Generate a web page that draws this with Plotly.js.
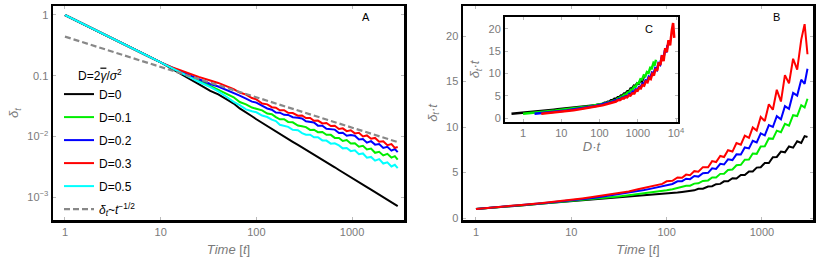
<!DOCTYPE html>
<html><head><meta charset="utf-8">
<script src="https://cdn.plot.ly/plotly-3.0.1.min.js"></script>
<style>html,body{margin:0;padding:0;background:#fff;} #chart{width:817px;height:259px;}</style>
</head><body><div id="chart"></div>
<script>
// ---- time grid (shared by all series) ----
const timeSteps = [1, 1.5, 2, 3, 5, 7, 10, 13, 16, 20, 25, 33, 40, 50, 58, 67, 78, 90, 100, 115, 130, 145, 160, 176, 195, 215, 240, 272, 300, 330, 365, 400, 440, 490, 540, 600, 660, 730, 800, 880, 970, 1070, 1180, 1300, 1430, 1580, 1740, 1920, 2120, 2340, 2580, 2800, 3000];

// ---- Panel A: delta_t (log-log) ----
const legendLabelsA = ['D=0', 'D=0.1', 'D=0.2', 'D=0.3', 'D=0.5'];
const deltaD0  = [1, 0.733, 0.582, 0.427, 0.285, 0.219, 0.166, 0.132, 0.1096, 0.0891, 0.0724, 0.0562, 0.0490, 0.0398, 0.0347, 0.0288, 0.0251, 0.0214, 0.0191, 0.0166, 0.0148, 0.0132, 0.0120, 0.01096, 0.0100, 0.00912, 0.00813, 0.00724, 0.00661, 0.00603, 0.00543, 0.00501, 0.00457, 0.00407, 0.00372, 0.00339, 0.00309, 0.00279, 0.00254, 0.00232, 0.00211, 0.00193, 0.00174, 0.00158, 0.00145, 0.00132, 0.00120, 0.00110, 0.00100, 0.000902, 0.000822, 0.000759, 0.000708];
const deltaD01 = [1, 0.733, 0.582, 0.427, 0.285, 0.219, 0.166, 0.135, 0.116, 0.0977, 0.0832, 0.0676, 0.0589, 0.0490, 0.0441, 0.0368, 0.0336, 0.0298, 0.0287, 0.0268, 0.0238, 0.0232, 0.0207, 0.0191, 0.0191, 0.01726, 0.0170, 0.01507, 0.01466, 0.01419, 0.01276, 0.01288, 0.01169, 0.01178, 0.01059, 0.01057, 0.00942, 0.00940, 0.00839, 0.00867, 0.00764, 0.00769, 0.00676, 0.00700, 0.00608, 0.00627, 0.00535, 0.00557, 0.00485, 0.00515, 0.00447, 0.00472, 0.00414];
const deltaD02 = [1, 0.733, 0.582, 0.427, 0.285, 0.219, 0.166, 0.1365, 0.119, 0.1023, 0.0871, 0.0729, 0.0661, 0.0575, 0.0520, 0.0470, 0.0419, 0.0373, 0.0359, 0.0322, 0.0288, 0.0275, 0.0247, 0.0245, 0.0226, 0.0225, 0.0207, 0.0202, 0.0197, 0.0177, 0.0175, 0.01687, 0.0150, 0.01496, 0.0133, 0.01321, 0.01291, 0.01138, 0.01148, 0.01023, 0.01052, 0.01023, 0.00885, 0.00902, 0.00787, 0.00832, 0.00730, 0.00748, 0.00643, 0.00673, 0.00581, 0.00617, 0.00550];
const deltaD03 = [1, 0.733, 0.582, 0.427, 0.285, 0.219, 0.166, 0.138, 0.123, 0.107, 0.0955, 0.0832, 0.0759, 0.0661, 0.0600, 0.0527, 0.0488, 0.0428, 0.0407, 0.0348, 0.0336, 0.0302, 0.0296, 0.0269, 0.0269, 0.0244, 0.0242, 0.0219, 0.0221, 0.02005, 0.02005, 0.0180, 0.0182, 0.0163, 0.0166, 0.0148, 0.0149, 0.01324, 0.01355, 0.01216, 0.01259, 0.01117, 0.01143, 0.00995, 0.01035, 0.00912, 0.00942, 0.00817, 0.00832, 0.00716, 0.00745, 0.00646, 0.00668];
const deltaD05 = [1, 0.733, 0.582, 0.427, 0.285, 0.219, 0.166, 0.1334, 0.1122, 0.0933, 0.0794, 0.0646, 0.0550, 0.0437, 0.0369, 0.0327, 0.0278, 0.0259, 0.0249, 0.0220, 0.0208, 0.0188, 0.0178, 0.01549, 0.01493, 0.01435, 0.01282, 0.01259, 0.01127, 0.01062, 0.01064, 0.00966, 0.00968, 0.00857, 0.00851, 0.00757, 0.00766, 0.00708, 0.00634, 0.00644, 0.00570, 0.00589, 0.00506, 0.00522, 0.00445, 0.00458, 0.00398, 0.00421, 0.00356, 0.00373, 0.00319, 0.00339, 0.00299];
const fitTimes = [1, 3000];
const fitDelta = [0.44, 0.00803];

// ---- Panel B / inset C: delta_t * t ----
const prodBlack = [1.0, 1.12, 1.22, 1.38, 1.58, 1.7, 1.85, 1.93, 2.0, 2.08, 2.15, 2.25, 2.32, 2.4, 2.45, 2.5, 2.55, 2.6, 2.65, 2.72, 2.8, 2.87, 2.93, 3.03, 3.04, 3.21, 3.22, 3.46, 3.5, 3.72, 3.75, 4.03, 4.04, 4.37, 4.35, 4.73, 4.72, 5.12, 5.12, 5.54, 5.58, 6.05, 6.04, 6.68, 6.71, 7.3, 7.22, 7.86, 7.73, 8.44, 8.25, 9.0, 8.9];
const prodGreen = [1.0, 1.12, 1.23, 1.4, 1.6, 1.73, 1.9, 1.99, 2.07, 2.17, 2.27, 2.4, 2.5, 2.62, 2.7, 2.78, 2.87, 2.97, 3.05, 3.17, 3.3, 3.4, 3.54, 3.55, 3.78, 3.81, 4.08, 4.13, 4.45, 4.45, 4.85, 4.87, 5.27, 5.33, 5.8, 5.85, 6.41, 6.43, 7.08, 7.05, 7.85, 7.88, 8.75, 8.7, 9.6, 9.42, 10.35, 10.15, 11.3, 11.2, 12.4, 12.15, 13.1];
const prodBlue = [1.0, 1.13, 1.24, 1.42, 1.62, 1.76, 1.95, 2.07, 2.18, 2.3, 2.45, 2.62, 2.75, 2.95, 3.07, 3.2, 3.35, 3.5, 3.67, 3.74, 4.03, 4.05, 4.32, 4.27, 4.62, 4.55, 4.93, 4.96, 5.47, 5.39, 5.95, 5.88, 6.45, 6.37, 7.0, 6.98, 7.75, 7.65, 8.48, 8.3, 9.3, 9.08, 10.2, 10.0, 11.2, 10.85, 12.3, 12.0, 13.75, 13.45, 15.2, 14.75, 16.4];
const prodRed = [1.0, 1.14, 1.25, 1.44, 1.64, 1.8, 2.0, 2.15, 2.28, 2.42, 2.58, 2.78, 2.92, 3.15, 3.3, 3.45, 3.67, 3.75, 4.03, 4.09, 4.45, 4.42, 4.77, 4.7, 5.15, 5.08, 5.59, 5.57, 6.25, 6.15, 6.82, 6.7, 7.45, 7.3, 8.23, 8.05, 9.05, 8.8, 9.95, 9.6, 11.1, 10.65, 12.5, 11.9, 14.1, 12.8, 15.7, 14.8, 17.5, 16.3, 19.6, 21.3, 18.0];
const insetD = [0.5, 1, 2, 3];   // D used for the D·t axis of the inset

// tick labels
const timeTicks = [1, 10, 100, 1000];
const timeTickText = ['1', '10', '100', '1000'];
const deltaTicks = [1, 0.1, 0.01, 0.001];
const deltaTickText = ['1', '0.1', '10<sup>\u22122</sup>', '10<sup>\u22123</sup>'];
const prodTicks = [0, 5, 10, 15, 20];
const dtTicks = [1, 10, 100, 1000, 10000];
const dtTickText = ['1', '10', '100', '1000', '10<sup>4</sup>'];

const colors = {black: '#000000', green: '#00ee00', blue: '#0000ff', red: '#ff0000', cyan: '#00ffff', gray: '#888888'};
const FONT = 'Liberation Sans, Arial, Helvetica, sans-serif';
const W = 817, H = 259;
const px = v => v / W;
const py = v => 1 - v / H;

const data = [];
const seriesA = [deltaD0, deltaD01, deltaD02, deltaD03, deltaD05];
const colA = [colors.black, colors.green, colors.blue, colors.red, colors.cyan];
seriesA.forEach((s, i) => {
  data.push({x: timeSteps, y: s, type: 'scatter', mode: 'lines', name: legendLabelsA[i],
    legendgroup: 'g' + i, line: {color: colA[i], width: 2}, xaxis: 'x', yaxis: 'y'});
});
data.push({x: fitTimes, y: fitDelta, type: 'scatter', mode: 'lines',
  name: '<i>\u03b4</i><sub><i>t</i></sub>~<i>t</i><sup>\u22121/2</sup>', legendgroup: 'g5',
  line: {color: colors.gray, width: 2.2, dash: '6px,3px'}, xaxis: 'x', yaxis: 'y'});

const seriesB = [prodBlack, prodGreen, prodBlue, prodRed];
const colB = [colors.black, colors.green, colors.blue, colors.red];
seriesB.forEach((s, i) => {
  data.push({x: timeSteps, y: s, type: 'scatter', mode: 'lines', showlegend: false,
    line: {color: colB[i], width: 2}, xaxis: 'x2', yaxis: 'y2'});
});
seriesB.forEach((s, i) => {
  data.push({x: timeSteps.map(t => t * insetD[i]), y: s, type: 'scatter', mode: 'lines', showlegend: false,
    line: {color: colB[i], width: 2.5}, xaxis: 'x3', yaxis: 'y3'});
});

const tickGray = '#7a7a7a';
function axisBase(extra) {
  return Object.assign({
    showline: true, mirror: 'allticks', linewidth: 2.5, linecolor: '#000',
    ticks: 'inside', ticklen: 3, tickcolor: '#bbbbbb', tickwidth: 1,
    showgrid: false, zeroline: false,
    tickfont: {family: FONT, size: 11, color: tickGray}
  }, extra);
}
const titleFont = {family: FONT, size: 13, color: tickGray};
const labelFont = {family: FONT, size: 11, color: '#000'};

const layout = {
  width: W, height: H,
  margin: {l: 0, r: 0, t: 0, b: 0},
  paper_bgcolor: '#fff', plot_bgcolor: '#fff',
  font: {family: FONT},
  showlegend: true,
  xaxis: axisBase({type: 'log', domain: [px(53), px(404)], range: [-0.125, 3.543], anchor: 'y',
    tickvals: timeTicks, ticktext: timeTickText,
    title: {text: '<i>Time</i> [<i>t</i>]', font: titleFont, standoff: 8}}),
  yaxis: axisBase({type: 'log', domain: [1 - 220 / H, 1 - 6 / H], range: [-3.379, 0.148], anchor: 'x',
    tickvals: deltaTicks, ticktext: deltaTickText,
    title: {text: '<i>\u03b4<sub>t</sub></i>', font: titleFont, standoff: 6}}),
  xaxis2: axisBase({type: 'log', domain: [px(463), px(813)], range: [-0.136, 3.535], anchor: 'y2',
    tickvals: timeTicks, ticktext: timeTickText,
    title: {text: '<i>Time</i> [<i>t</i>]', font: titleFont, standoff: 8}}),
  yaxis2: axisBase({domain: [1 - 220 / H, 1 - 6 / H], range: [-0.22, 23.3], anchor: 'x2',
    tickvals: prodTicks,
    title: {text: '<i>\u03b4<sub>t</sub>\u00b7t</i>', font: titleFont, standoff: 6}}),
  xaxis3: axisBase({type: 'log', domain: [px(505), px(678)], range: [-0.471, 4.052], anchor: 'y3',
    linewidth: 2, tickvals: dtTicks, ticktext: dtTickText,
    title: {text: '<i>D\u00b7t</i>', font: titleFont, standoff: 4}}),
  yaxis3: axisBase({domain: [1 - 122 / H, 1 - 17 / H], range: [-0.83, 22.66], anchor: 'x3',
    linewidth: 2, tickvals: prodTicks,
    title: {text: '<i>\u03b4<sub>t</sub>\u00b7t</i>', font: titleFont, standoff: 6}}),
  legend: {
    x: px(59), xanchor: 'left', y: py(64), yanchor: 'top',
    bgcolor: 'rgba(0,0,0,0)', borderwidth: 0,
    font: {family: FONT, size: 12, color: '#000'},
    traceorder: 'grouped', tracegroupgap: 4,
    title: {text: 'D=2<span style="text-decoration:overline"><i>\u03b3</i></span>/<i>\u03c3</i><sup>2</sup>',
      side: 'top center', font: {family: FONT, size: 12, color: '#000'}}
  },
  annotations: [
    {text: 'A', x: px(366), y: py(17), xref: 'paper', yref: 'paper', xanchor: 'center', yanchor: 'middle', showarrow: false, font: labelFont},
    {text: 'B', x: px(776), y: py(17), xref: 'paper', yref: 'paper', xanchor: 'center', yanchor: 'middle', showarrow: false, font: labelFont},
    {text: 'C', x: px(649), y: py(29), xref: 'paper', yref: 'paper', xanchor: 'center', yanchor: 'middle', showarrow: false, font: labelFont}
  ]
};

Plotly.newPlot('chart', data, layout, {displayModeBar: false, staticPlot: true});
</script></body></html>
